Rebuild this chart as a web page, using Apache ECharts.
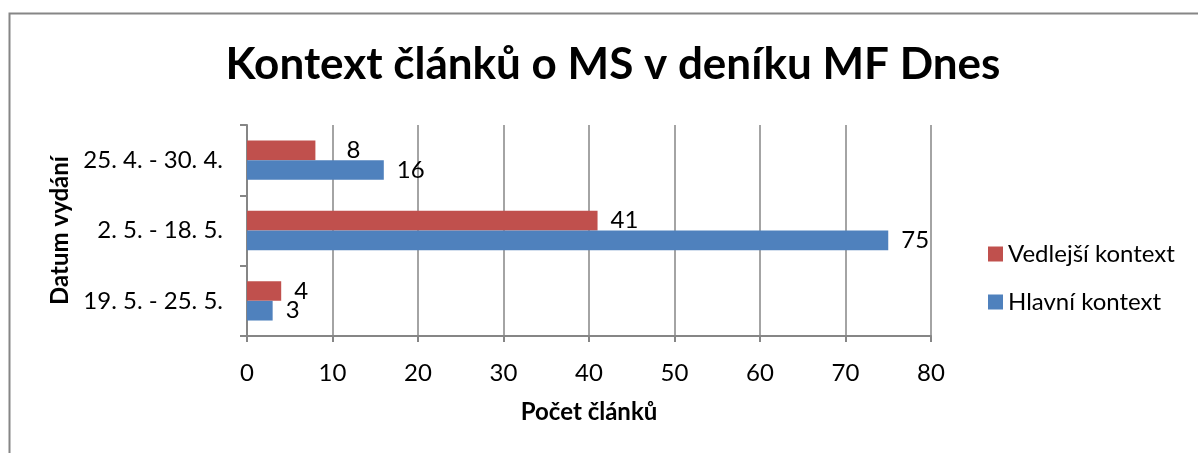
<!DOCTYPE html>
<html>
<head>
<meta charset="utf-8">
<script src="https://cdn.jsdelivr.net/npm/echarts@6/dist/echarts.min.js"></script>
<style>
  html, body { margin: 0; padding: 0; background: #fff; }
  #graf { width: 1198px; height: 453px; }
</style>
</head>
<body>
<div id="graf"></div>
<script>
// data
var kategorie = ['19. 5. - 25. 5.', '2. 5. - 18. 5.', '25. 4. - 30. 4.'];
var hlavni = [3, 75, 16];
var vedlejsi = [4, 41, 8];
var xTicks = [0, 10, 20, 30, 40, 50, 60, 70, 80];

var pismo = 'Lato';
var seda = '#868686';

var graf = echarts.init(document.getElementById('graf'));

// label "8" sits a bit further right in the original
var vedlejsiData = [];
for (var i = 0; i < vedlejsi.length; i++) {
	var item = { value: vedlejsi[i] };
	if (i == 2) item.label = { offset: [18, 0] };
	vedlejsiData.push(item);
}

graf.setOption({
	animation: false,
	textStyle: { fontFamily: pismo },
	title: {
		text: 'Kontext článků o MS v deníku MF Dnes',
		left: 608,
		top: 38,
		textAlign: 'center',
		textStyle: { fontFamily: pismo, fontWeight: 'bold', fontSize: 44, color: '#000' }
	},
	graphic: [{
		type: 'rect',
		shape: { x: 9.5, y: 13.5, width: 1300, height: 600 },
		style: { fill: 'none', stroke: seda, lineWidth: 2 },
		silent: true
	}],
	legend: {
		orient: 'vertical',
		left: 983,
		top: 237,
		itemWidth: 15,
		itemHeight: 15,
		itemGap: 24,
		icon: 'rect',
		data: ['Vedlejší kontext', 'Hlavní kontext'],
		textStyle: { fontFamily: pismo, fontSize: 24, color: '#000' }
	},
	grid: { left: 247, right: 267, top: 125, bottom: 117, containLabel: false },
	xAxis: {
		type: 'value',
		min: xTicks[0],
		max: xTicks[xTicks.length - 1],
		interval: 10,
		name: 'Počet článků',
		nameLocation: 'middle',
		nameGap: 64,
		nameTextStyle: { fontFamily: pismo, fontWeight: 'bold', fontSize: 24, color: '#000' },
		axisLine: { show: true, lineStyle: { color: seda, width: 2 } },
		axisTick: { show: true, length: 6, lineStyle: { color: seda, width: 2 } },
		axisLabel: { fontFamily: pismo, fontSize: 24, color: '#000', margin: 25 },
		splitLine: { show: true, lineStyle: { color: seda, width: 1.5 } }
	},
	yAxis: {
		type: 'category',
		data: kategorie,
		name: 'Datum vydání',
		nameLocation: 'middle',
		nameGap: 174,
		nameTextStyle: { fontFamily: pismo, fontWeight: 'bold', fontSize: 24, color: '#000' },
		axisLine: { show: true, lineStyle: { color: seda, width: 2 } },
		axisTick: { show: true, length: 7, alignWithLabel: false, lineStyle: { color: seda, width: 2 } },
		axisLabel: { fontFamily: pismo, fontSize: 24, color: '#000', margin: 24 }
	},
	series: [{
		name: 'Vedlejší kontext',
		type: 'bar',
		data: vedlejsiData,
		barGap: '0%',
		barCategoryGap: '44%',
		itemStyle: { color: '#C0504D' },
		label: { show: true, position: 'right', distance: 13, fontFamily: pismo, fontSize: 24, color: '#000' }
	}, {
		name: 'Hlavní kontext',
		type: 'bar',
		data: hlavni,
		barGap: '0%',
		barCategoryGap: '44%',
		itemStyle: { color: '#4F81BD' },
		label: { show: true, position: 'right', distance: 13, fontFamily: pismo, fontSize: 24, color: '#000' }
	}]
});
</script>
</body>
</html>
